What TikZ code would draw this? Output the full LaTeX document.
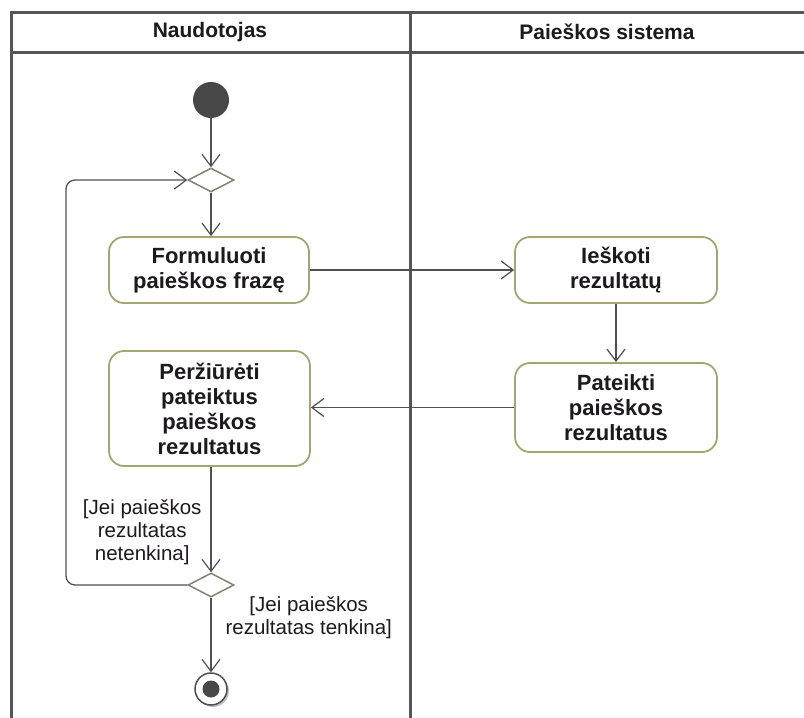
\documentclass[tikz,border=0pt]{standalone}
\usepackage{fontspec}
\setmainfont{Liberation Sans}
\usetikzlibrary{arrows.meta,shapes.geometric}
\definecolor{olive}{RGB}{165,165,115}
\definecolor{lanec}{RGB}{85,85,85}
\definecolor{linec}{RGB}{80,80,80}
\definecolor{txtc}{RGB}{30,25,30}
\definecolor{diac}{RGB}{130,130,110}
\begin{document}
\begin{tikzpicture}[x=1pt,y=-1pt,
  lane/.style={draw=lanec,line width=3pt},
  action/.style={draw=olive,line width=1.8pt,rounded corners=15pt,fill=white,
    minimum width=200pt,align=center,text=txtc,
    font=\fontsize{22}{25}\selectfont\bfseries},
  decision/.style={draw=diac,line width=1.5pt,diamond,fill=white,
    minimum width=46pt,minimum height=24pt,inner sep=0pt,aspect=2},
  flow/.style={draw=linec,line width=1.3pt,
    -{Straight Barb[length=12pt,width=18pt,line width=1.2pt]}},
  guard/.style={align=center,text=txtc,font=\fontsize{20.5}{23}\selectfont},
  header/.style={font=\fontsize{21}{24}\selectfont\bfseries,text=txtc}]
\useasboundingbox (0,0) rectangle (804,718);
% swimlanes
\draw[lane] (804,12) -- (11,12) -- (11,718);
\draw[lane] (11,52) -- (804,52);
\draw[lane] (410,12) -- (410,718);
\node[header] (h1) at (210,32) {Naudotojas};
\node[header] (h2) at (607,32) {Paieškos sistema};
% nodes
\node[circle,fill=black!72,minimum size=36pt,inner sep=0pt] (start) at (211,100) {};
\node[decision] (d1) at (211,180) {};
\node[action,minimum height=66pt] (a1) at (209,270) {Formuluoti\\paieškos frazę};
\node[action,minimum height=66pt,minimum width=202pt] (a2) at (616,270) {Ieškoti\\rezultatų};
\node[action,minimum height=89pt,minimum width=202pt] (a3) at (616,407.5) {Pateikti\\paieškos\\rezultatus};
\node[action,minimum height=115pt,minimum width=201pt] (a4) at (209.5,408.5) {Peržiūrėti\\pateiktus\\paieškos\\rezultatus};
\node[decision] (d2) at (211,585) {};
\fill[black!25] (213,691) circle (16pt);
\node[circle,draw=linec,line width=1.5pt,fill=white,minimum size=32pt,inner sep=0pt] (end) at (211,689) {};
\fill[black!72] (end.center) circle (8.5pt);
% flows
\draw[flow] (start) -- (d1.north);
\draw[flow] (d1.south) -- (a1.north -| d1.south);
\draw[flow] (a1.east) -- (a2.west);
\draw[flow] (a2.south) -- (a3.north);
\draw[flow] (a3.west) -- (a4.east |- a3.west);
\draw[flow] (a4.south -| d2.north) -- (d2.north);
\draw[flow] (d2.south) -- (end.north);
\draw[flow,rounded corners=9pt] (d2.west) -- (66,585) -- (66,180) -- (d1.west);
% guards
\node[guard,anchor=east] (g1) at (205,532) {[Jei paieškos\\rezultatas\\netenkina]};
\node[guard,anchor=west] (g2) at (222,618) {[Jei paieškos\\rezultatas tenkina]};
\end{tikzpicture}
\end{document}
